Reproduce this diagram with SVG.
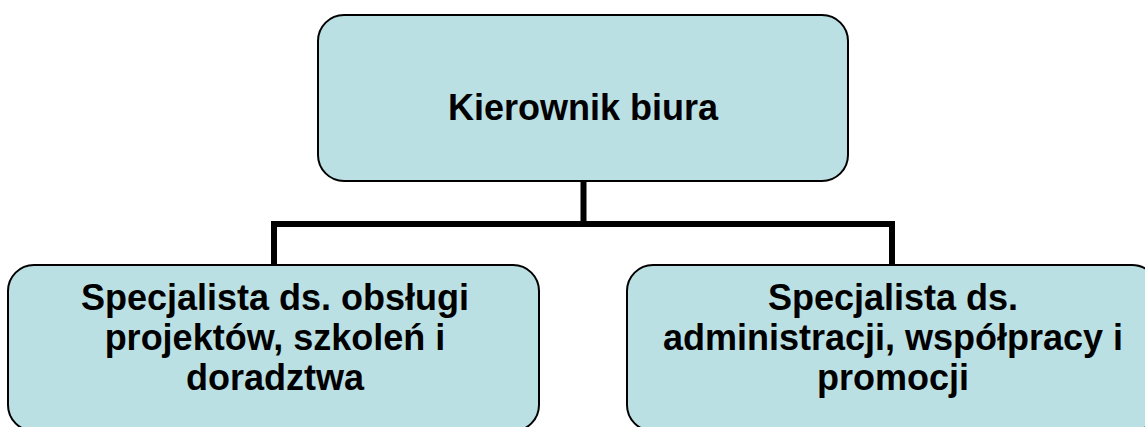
<svg xmlns="http://www.w3.org/2000/svg" width="1145" height="427" viewBox="0 0 1145 427">
<style>
.box{fill:#BBE0E3;stroke:#000;stroke-width:2}
.lbl{font-family:"Liberation Sans",Arial,sans-serif;font-weight:bold;font-size:36px;fill:#000;text-anchor:middle}
.conn{fill:none;stroke:#000;stroke-width:6;stroke-linejoin:miter;stroke-linecap:butt}
</style>
<rect width="1145" height="427" fill="#fff"/>
<g id="connectors">
<path class="conn" d="M583.5 181 V224 M274 265 V224 H892 V265"/>
</g>
<g id="node-kierownik">
<rect class="box" x="318" y="15" width="530" height="166" rx="26"/>
<text class="lbl" x="583" y="120">Kierownik biura</text>
</g>
<g id="node-specjalista-projekty">
<rect class="box" x="8" y="265" width="531" height="166" rx="26"/>
<text class="lbl" x="275" y="310">Specjalista ds. obsługi</text>
<text class="lbl" x="275" y="350">projektów, szkoleń i</text>
<text class="lbl" x="275" y="390">doradztwa</text>
</g>
<g id="node-specjalista-administracja">
<rect class="box" x="627" y="265" width="531" height="166" rx="26"/>
<text class="lbl" x="893" y="310">Specjalista ds.</text>
<text class="lbl" x="893" y="350">administracji, współpracy i</text>
<text class="lbl" x="893" y="390">promocji</text>
</g>
</svg>
